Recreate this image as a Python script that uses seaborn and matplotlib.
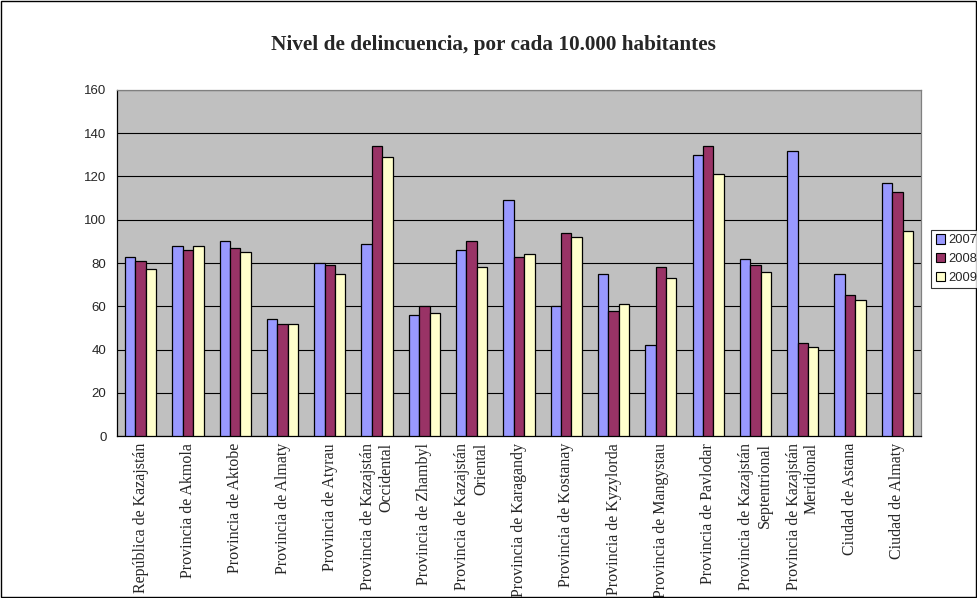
import matplotlib
matplotlib.use('Agg')
import matplotlib.pyplot as plt
import matplotlib.patches as mpatches
from matplotlib.ticker import FixedLocator
import pandas as pd
import seaborn as sns

## Data - crime level per 10,000 inhabitants
regions = [
    'República de Kazajstán', 'Provincia de Akmola', 'Provincia de Aktobe',
    'Provincia de Almaty', 'Provincia de Atyrau', 'Provincia de Kazajstán\nOccidental',
    'Provincia de Zhambyl', 'Provincia de Kazajstán\nOriental', 'Provincia de Karagandy',
    'Provincia de Kostanay', 'Provincia de Kyzylorda', 'Provincia de Mangystau',
    'Provincia de Pavlodar', 'Provincia de Kazajstán\nSeptentrional',
    'Provincia de Kazajstán\nMeridional', 'Ciudad de Astana', 'Ciudad de Almaty',
]
years = ['2007', '2008', '2009']
v2007 = [83, 88, 90, 54, 80, 89, 56, 86, 109, 60, 75, 42, 130, 82, 132, 75, 117]
v2008 = [81, 86, 87, 52, 79, 134, 60, 90, 83, 94, 58, 78, 134, 79, 43, 65, 113]
v2009 = [77, 88, 85, 52, 75, 129, 57, 78, 84, 92, 61, 73, 121, 76, 41, 63, 95]
colors = ['#9999FF', '#993366', '#FFFFCC']

df = pd.DataFrame({'region': regions * 3,
                   'year': [y for y in years for _ in regions],
                   'value': v2007 + v2008 + v2009})

sns.set_style('white')
plt.rcParams['font.family'] = ['Liberation Sans', 'DejaVu Sans']

fig = plt.figure(figsize=(9.78, 5.98), dpi=100)
ax = fig.add_axes([0.1196, 0.2709, 0.8221, 0.5786])
ax.set_facecolor('#C0C0C0')

sns.barplot(data=df, x='region', y='value', hue='year', order=regions, hue_order=years,
            palette=colors, width=0.66, edgecolor='black', linewidth=0.9,
            saturation=1, ax=ax, zorder=3)

ax.set_ylim(0, 160)
ax.set_xlim(-0.5, len(regions) - 0.5)
ax.set_yticks(range(0, 161, 20))
ax.yaxis.grid(True, color='black', linewidth=0.8, zorder=0)
ax.set_axisbelow(True)
ax.set_xlabel('')
ax.set_ylabel('')

# category labels, boundary ticks
ax.set_xticks(range(len(regions)))
ax.set_xticklabels(regions, rotation=90, family=['Liberation Serif'], fontsize=11.5,
                   ha='center', va='top', multialignment='right')
ax.tick_params(axis='x', which='major', length=0, pad=5)
ax.xaxis.set_minor_locator(FixedLocator([i - 0.5 for i in range(len(regions) + 1)]))
ax.tick_params(axis='x', which='minor', length=4.5, width=0.8, color='black', direction='out')
ax.tick_params(axis='y', length=4.5, width=0.8, color='black', direction='out', labelsize=9.5, pad=3)

for s in ['left', 'bottom']:
    ax.spines[s].set_color('black')
    ax.spines[s].set_linewidth(0.9)
for s in ['top', 'right']:
    ax.spines[s].set_color('#808080')
    ax.spines[s].set_linewidth(0.9)

fig.text(0.5045, 0.925, 'Nivel de delincuencia, por cada 10.000 habitantes',
         ha='center', va='center', fontsize=15.3, fontweight='bold',
         family=['Liberation Serif'])

handles = [mpatches.Patch(facecolor=c, edgecolor='black', linewidth=0.8) for c in colors]
leg = fig.legend(handles, years, loc='center left', bbox_to_anchor=(0.952, 0.567),
                 fontsize=9.3, frameon=True, fancybox=False, edgecolor='black',
                 handlelength=0.75, handleheight=0.75, handletextpad=0.2,
                 borderpad=0.35, labelspacing=0.5, borderaxespad=0)
leg.get_frame().set_linewidth(0.8)
if ax.get_legend():
    ax.get_legend().remove()

# outer chart border
fig.patches.append(mpatches.Rectangle((0.001, 0.002), 0.997, 0.996, transform=fig.transFigure,
                                      fill=False, edgecolor='black', linewidth=1))

fig.savefig('out.png', dpi=100)
